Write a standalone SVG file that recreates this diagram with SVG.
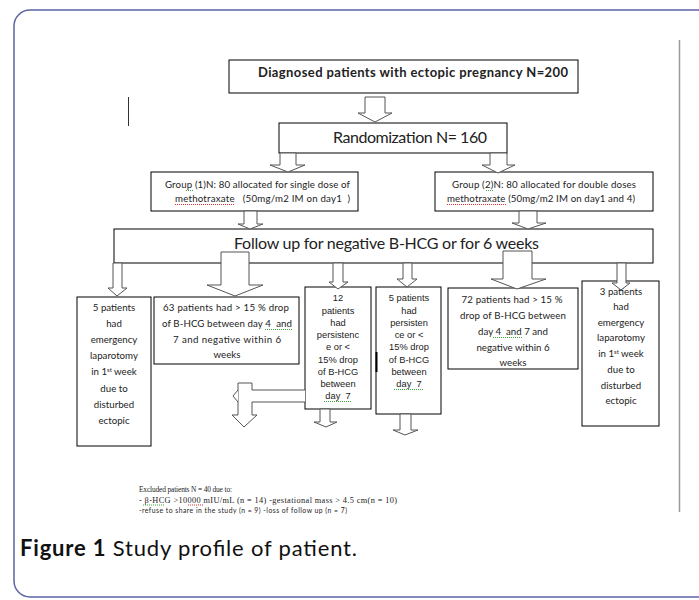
<svg xmlns="http://www.w3.org/2000/svg" width="699" height="600" viewBox="0 0 699 600">
<style>
.box{fill:#fff;stroke:#000;stroke-width:1}
.arr{fill:#fff;stroke:#555;stroke-width:1;stroke-linejoin:miter}
.c{font-family:Lato,"Liberation Sans",sans-serif;fill:#222}
.a{font-family:"Liberation Sans",Arial,sans-serif;fill:#222;font-size:9.3px}
.s{font-size:9.7px}
.m{text-anchor:middle}
.g{stroke:#3aa83a;stroke-width:1;stroke-dasharray:1 1;fill:none}
.r{stroke:#e03030;stroke-width:1;stroke-dasharray:1 1;fill:none}
.t{font-family:"Liberation Serif","Times New Roman",serif;fill:#222}
</style>
<rect x="14" y="10" width="720" height="587" rx="16" ry="16" fill="#fff" stroke="#5c63a6" stroke-width="1.5"/>
<line x1="679.5" y1="40" x2="679.5" y2="512" stroke="#9a9a9a" stroke-width="1.5"/>
<line x1="128.5" y1="97" x2="128.5" y2="126" stroke="#333" stroke-width="1"/>

<g id="n-diagnosed">
<rect class="box" x="229" y="60" width="349" height="33"/>
<text class="c" x="258" y="77" font-size="13" font-weight="bold" textLength="310">Diagnosed patients with ectopic pregnancy N=200</text>
</g>
<g id="n-random">
<rect class="box" x="279" y="123" width="228" height="30"/>
<text class="c" x="333" y="143" font-size="16" textLength="154">Randomization N= 160</text>
</g>
<g id="n-group1">
<rect class="box" x="151" y="172" width="207" height="39"/>
<text class="c s" x="165" y="188" textLength="185">Group (1)N:  80 allocated for single dose of</text>
<text class="c s" x="175" y="202" textLength="175" xml:space="preserve">methotraxate   (50mg/m2 IM on day1  )</text>
<path class="g" d="M186 190.5h8"/>
<path class="r" d="M175 204.5h60"/>
</g>
<g id="n-group2">
<rect class="box" x="435" y="172" width="218" height="39"/>
<text class="c s" x="452" y="188" textLength="184">Group (2)N:  80 allocated for double doses</text>
<text class="c s" x="447" y="202" textLength="188">methotraxate (50mg/m2 IM on day1 and 4)</text>
<path class="g" d="M486 190.5h8"/>
<path class="r" d="M447 204.5h60"/>
</g>
<g id="n-follow">
<rect class="box" x="114" y="229" width="539" height="34"/>
<text class="c" x="234" y="249" font-size="16" textLength="305">Follow up for negative B-HCG or for 6 weeks</text>
</g>
<g id="n-box1">
<rect class="box" x="77" y="297" width="74" height="149"/>
<g class="c s m">
<text x="114" y="311">5 patients</text>
<text x="114" y="327">had</text>
<text x="114" y="343">emergency</text>
<text x="114" y="359">laparotomy</text>
<text x="114" y="375">in 1<tspan font-size="6" dy="-3">st</tspan><tspan dy="3"> week</tspan></text>
<text x="114" y="392">due to</text>
<text x="114" y="408">disturbed</text>
<text x="114" y="424">ectopic</text>
</g>
</g>
<g id="n-box2">
<rect class="box" x="154" y="297" width="145" height="67"/>
<g class="c s m">
<text x="226" y="311" textLength="126">63 patients had &gt; 15 % drop</text>
<text x="227" y="327" textLength="130" xml:space="preserve">of B-HCG between day 4  and</text>
<text x="227" y="343" textLength="108">7 and negative within 6</text>
<text x="227" y="358">weeks</text>
</g>
<path class="g" d="M265 329.5h27"/>
</g>
<g id="n-box3">
<rect class="box" x="305" y="287" width="66" height="122"/>
<g class="a m">
<text x="338" y="301">12</text>
<text x="338" y="314">patients</text>
<text x="338" y="326">had</text>
<text x="338" y="338">persistenc</text>
<text x="338" y="350">e or &lt;</text>
<text x="338" y="363">15% drop</text>
<text x="338" y="375">of B-HCG</text>
<text x="338" y="387">between</text>
<text x="338" y="399" xml:space="preserve">day  7</text>
</g>
<path class="g" d="M324 401.5h28"/>
</g>
<g id="n-box4">
<rect class="box" x="376" y="287" width="65" height="127"/>
<line x1="376.5" y1="352" x2="376.5" y2="372" stroke="#000" stroke-width="2"/>
<g class="a m">
<text x="409" y="301">5 patients</text>
<text x="409" y="314">had</text>
<text x="409" y="326">persisten</text>
<text x="409" y="338">ce or &lt;</text>
<text x="409" y="350">15% drop</text>
<text x="409" y="363">of B-HCG</text>
<text x="409" y="375">between</text>
<text x="409" y="387" xml:space="preserve">day  7</text>
</g>
<path class="g" d="M394 389.5h30"/>
</g>
<g id="n-box5">
<rect class="box" x="448" y="288" width="130" height="81"/>
<g class="c s m">
<text x="512" y="303" textLength="101">72 patients had &gt; 15 %</text>
<text x="513" y="319" textLength="106">drop of B-HCG between</text>
<text x="513" y="335" xml:space="preserve">day 4  and 7 and</text>
<text x="513" y="351">negative within 6</text>
<text x="513" y="366">weeks</text>
</g>
<path class="g" d="M493 337.5h30"/>
</g>
<g id="n-box6">
<rect class="box" x="582" y="281" width="77" height="145"/>
<g class="c s m">
<text x="621" y="295">3 patients</text>
<text x="621" y="310">had</text>
<text x="621" y="326">emergency</text>
<text x="621" y="341">laparotomy</text>
<text x="621" y="357">in 1<tspan font-size="6" dy="-3">st</tspan><tspan dy="3"> week</tspan></text>
<text x="621" y="373">due to</text>
<text x="621" y="389">disturbed</text>
<text x="621" y="404">ectopic</text>
</g>
</g>

<g id="connectors">
<path class="arr" d="M365 97H385V113H392L375 122L358 113H365Z"/>
<path class="arr" d="M280 153H296V165H305L288 172L270 165H280Z"/>
<path class="arr" d="M490 153H507V165H515L498 173L482 165H490Z"/>
<path class="arr" d="M244 211H257V224H263L250 229L238 224H244Z"/>
<path class="arr" d="M519 211H537V223H546L528 229L512 223H519Z"/>
<path class="arr" d="M113 263H122V288H127L117 296L108 288H113Z"/>
<path class="arr" d="M221 252H249V285H263L235 296L207 285H221Z"/>
<path class="arr" d="M333 263H343V282H348L338 289L329 282H333Z"/>
<path class="arr" d="M403 263H412V279H417L407 287L397 279H403Z"/>
<path class="arr" d="M503 251H532V279H546L517 289L491 279H503Z"/>
<path class="arr" d="M617 263H626V283H630L621 290L612 283H617Z"/>
<path class="arr" d="M305 390H252V383H238V415H232L244 427L257 415H252V402H305"/>
<path class="arr" d="M238 390L233 396L238 402"/>
<path class="arr" d="M320 409H330V422H337L326 427L314 422H320Z"/>
<path class="arr" d="M400 414H411V430H418L405 435L393 430H400Z"/>
</g>

<g id="excluded">
<text class="t" x="139" y="492" font-size="7.4" textLength="93">Excluded patients N = 40 due to:</text>
<text class="t" x="139" y="503" font-size="8.3" textLength="258">- β-HCG &gt;10000 mIU/mL (n = 14) -gestational mass &gt; 4.5 cm(n = 10)</text>
<path class="g" d="M143 505h21"/>
<path class="r" d="M188 505h16"/>
<text class="c" x="139" y="513" font-size="6.8" textLength="208">-refuse to share in the study (n = 9) -loss of follow up (n = 7)</text>
</g>
<text x="20" y="556" font-family="Lato,'Open Sans',sans-serif" font-size="22" fill="#111" textLength="337"><tspan font-weight="bold">Figure 1</tspan> Study profile of patient.</text>
</svg>
